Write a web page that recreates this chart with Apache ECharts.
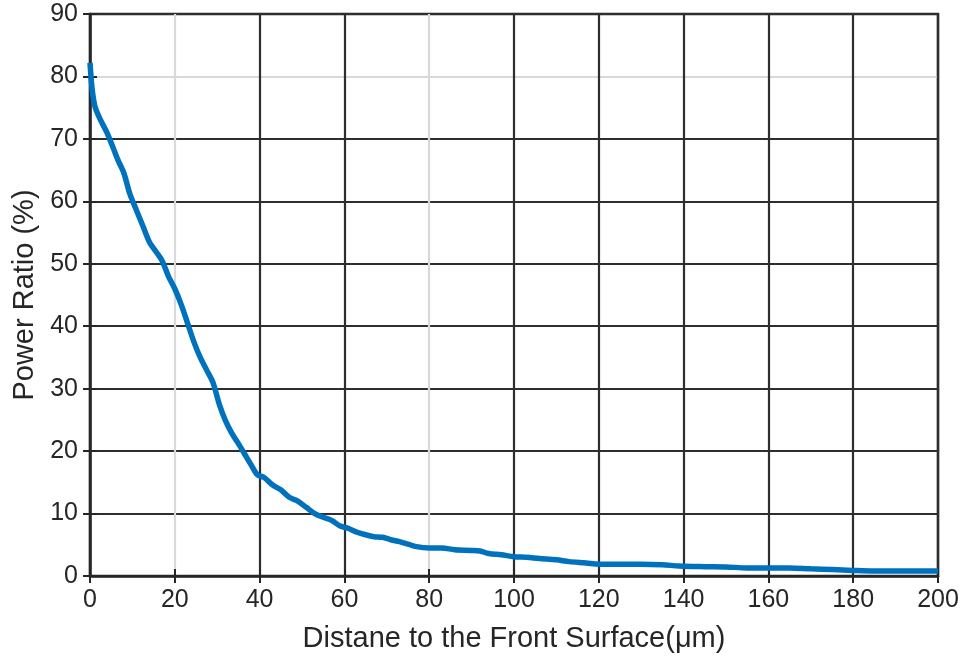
<!DOCTYPE html>
<html style="height: 100%">
<head>
  <meta charset="utf-8">
</head>
<body style="height: 100%; margin: 0; background: #fff">
  <div id="container" style="width: 966px; height: 663px"></div>

  <script type="text/javascript" src="https://cdn.jsdelivr.net/npm/echarts@6/dist/echarts.min.js"></script>
  <script type="text/javascript">
    // distance to front surface (um) and power ratio (%)
    var distance = [0, 0.5, 1.2, 2.5, 4, 5.5, 6.6, 8, 9.4, 11, 12.5, 14, 15.5, 17, 18.5, 20, 21.5, 23, 24.5, 26,
      27.5, 29, 30.5, 32, 33.5, 35, 36.5, 38, 39.5, 41, 43, 45, 47, 49, 51, 53, 55, 57, 59, 61,
      63, 65, 67, 69, 71, 73, 75, 77, 80, 83, 86, 90, 92, 94, 97, 100, 103, 106, 110, 113,
      117, 120, 125, 130, 135, 139, 145, 150, 155, 160, 165, 170, 175, 180, 185, 190, 195, 200];
    var powerRatio = [82.2, 78, 75.1, 73, 71, 68.5, 66.6, 64.5, 61.2, 58.5, 56, 53.5, 52, 50.5, 48, 46, 43.5, 40.5, 37.5, 35,
      33, 31, 27.5, 24.8, 22.8, 21.2, 19.5, 17.8, 16.2, 15.8, 14.6, 13.8, 12.6, 12, 11, 10, 9.4, 8.9, 8, 7.6,
      7, 6.6, 6.3, 6.2, 5.8, 5.5, 5.1, 4.7, 4.5, 4.5, 4.2, 4.1, 4.0, 3.6, 3.4, 3.1, 3.0, 2.8, 2.6, 2.3,
      2.1, 1.9, 1.9, 1.9, 1.8, 1.6, 1.5, 1.45, 1.3, 1.3, 1.3, 1.15, 1.05, 0.9, 0.8, 0.8, 0.8, 0.8];

    var xTicks = [0, 20, 40, 60, 80, 100, 120, 140, 160, 180, 200];
    var yTicks = [0, 10, 20, 30, 40, 50, 60, 70, 80, 90];

    var dark = '#262626';
    var light = '#d9d9d9';
    var xGridColors = xTicks.map(function (v) { return (v === 20 || v === 80) ? light : '#2e2e2e'; });
    var yGridColors = yTicks.map(function (v) { return v === 80 ? light : '#2e2e2e'; });

    var points = distance.map(function (d, i) { return [d, powerRatio[i]]; });

    var chart = echarts.init(document.getElementById('container'), null, { renderer: 'canvas' });
    var font = 'Liberation Sans, Arial, sans-serif';

    var option = {
      backgroundColor: '#fff',
      animation: false,
      grid: {
        left: 90, right: 28, top: 14, bottom: 87,
        show: true, borderColor: dark, borderWidth: 2.5, backgroundColor: 'transparent'
      },
      xAxis: [{
        type: 'value', min: 0, max: 200, interval: 20,
        name: 'Distane to the Front Surface(\u03bcm)',
        nameLocation: 'middle', nameGap: 48,
        nameTextStyle: { fontFamily: font, fontSize: 29, color: '#262626' },
        axisLine: { show: true, onZero: false, lineStyle: { color: dark, width: 2.5 } },
        axisTick: { show: true, inside: true, length: 7, lineStyle: { color: dark, width: 2 } },
        axisLabel: { fontFamily: font, fontSize: 25, color: '#262626', margin: 12 },
        splitLine: { show: true, lineStyle: { color: xGridColors, width: 2.2 } }
      }, {
        type: 'value', min: 0, max: 200, interval: 20, position: 'top',
        axisLine: { show: false },
        axisTick: { show: true, inside: true, length: 7, lineStyle: { color: dark, width: 2 } },
        axisLabel: { show: false },
        splitLine: { show: false }
      }],
      yAxis: [{
        type: 'value', min: 0, max: 90, interval: 10,
        name: 'Power Ratio (%)',
        nameLocation: 'middle', nameGap: 48,
        nameTextStyle: { fontFamily: font, fontSize: 29, color: '#262626' },
        axisLine: { show: true, onZero: false, lineStyle: { color: dark, width: 2.5 } },
        axisTick: { show: true, inside: true, length: 7, lineStyle: { color: dark, width: 2 } },
        axisLabel: { fontFamily: font, fontSize: 25, color: '#262626', margin: 12 },
        splitLine: { show: true, lineStyle: { color: yGridColors, width: 2.2 } }
      }, {
        type: 'value', min: 0, max: 90, interval: 10, position: 'right',
        axisLine: { show: false },
        axisTick: { show: true, inside: true, length: 7, lineStyle: { color: dark, width: 2 } },
        axisLabel: { show: false },
        splitLine: { show: false }
      }],
      series: [{
        type: 'line',
        data: points,
        showSymbol: false,
        smooth: 0.3,
        lineStyle: { color: '#0072BD', width: 5.5 },
        z: 5
      }]
    };

    chart.setOption(option);
    window.addEventListener('resize', chart.resize);
  </script>
</body>
</html>
